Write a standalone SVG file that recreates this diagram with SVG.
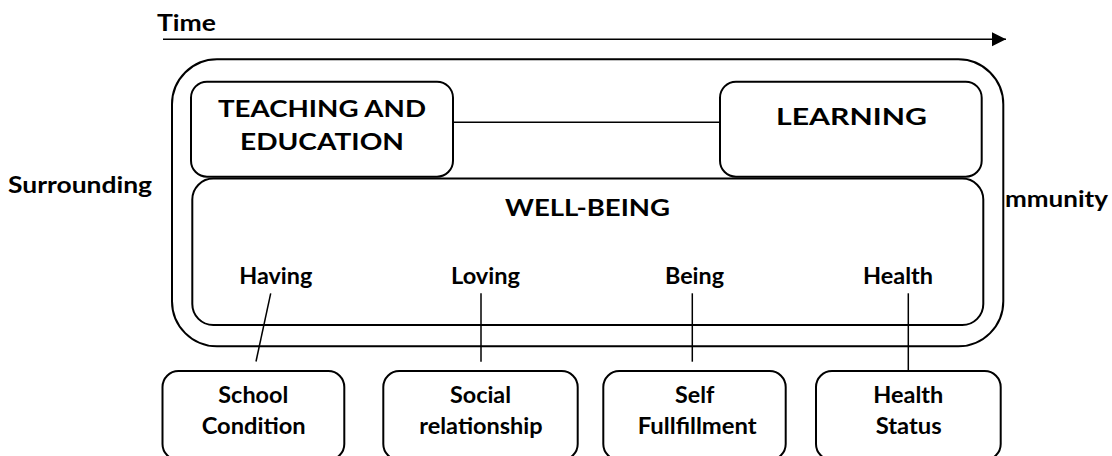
<svg xmlns="http://www.w3.org/2000/svg" width="1112" height="456" viewBox="0 0 1112 456">
  <defs>
    <marker id="arrowHead" markerUnits="userSpaceOnUse" markerWidth="16" markerHeight="16" refX="14" refY="7" orient="auto">
      <path d="M0,0 L14,7 L0,14 Z" fill="#000"/>
    </marker>
    <style>
      .box { fill: none; stroke: #000; stroke-width: 2; }
      .link { fill: none; stroke: #000; stroke-width: 1.5; }
      text { font-family: "Lato", "Open Sans", "Liberation Sans", sans-serif; font-weight: 700; fill: #000; }
      .head { font-size: 23px; }
      .lbl { font-size: 22px; }
    </style>
  </defs>
  <rect width="1112" height="456" fill="#fff"/>

  <!-- time axis -->
  <g id="time">
    <text class="lbl" x="157" y="31" textLength="59" lengthAdjust="spacingAndGlyphs">Time</text>
    <line class="link" x1="163" y1="39.3" x2="1006" y2="39.3" marker-end="url(#arrowHead)"/>
  </g>

  <!-- side labels -->
  <g id="surrounding">
    <text class="lbl" x="8" y="193.3" textLength="144" lengthAdjust="spacingAndGlyphs">Surrounding</text>
  </g>
  <g id="community">
    <text class="lbl" x="1005" y="206.5" textLength="103" lengthAdjust="spacingAndGlyphs">mmunity</text>
  </g>

  <!-- outer frame -->
  <g id="frame">
    <rect class="box" x="172" y="59.3" width="831.3" height="287" rx="45" ry="45"/>
  </g>

  <g id="teaching">
    <rect class="box" x="191" y="81.7" width="262" height="95" rx="16" ry="16"/>
    <text class="head" x="218" y="116.7" textLength="208" lengthAdjust="spacingAndGlyphs">TEACHING AND</text>
    <text class="head" x="240" y="150" textLength="164" lengthAdjust="spacingAndGlyphs">EDUCATION</text>
  </g>

  <g id="learning">
    <rect class="box" x="720" y="81.7" width="261.7" height="95" rx="16" ry="16"/>
    <text class="head" x="776" y="124.8" textLength="151" lengthAdjust="spacingAndGlyphs">LEARNING</text>
  </g>

  <g id="wellbeing">
    <rect class="box" x="192.3" y="178.6" width="791" height="146.4" rx="21" ry="21"/>
    <text class="head" x="505" y="216" textLength="165" lengthAdjust="spacingAndGlyphs">WELL-BEING</text>
    <text class="lbl" x="239.3" y="284.3" textLength="73" lengthAdjust="spacingAndGlyphs">Having</text>
    <text class="lbl" x="451" y="284.3" textLength="69" lengthAdjust="spacingAndGlyphs">Loving</text>
    <text class="lbl" x="665" y="284.3" textLength="59" lengthAdjust="spacingAndGlyphs">Being</text>
    <text class="lbl" x="863" y="284.3" textLength="70" lengthAdjust="spacingAndGlyphs">Health</text>
  </g>

  <g id="school">
    <rect class="box" x="162.5" y="371" width="181.8" height="89" rx="16" ry="16"/>
    <text class="lbl" x="218.3" y="403.3" textLength="70" lengthAdjust="spacingAndGlyphs">School</text>
    <text class="lbl" x="201.7" y="434.3" textLength="104" lengthAdjust="spacingAndGlyphs">Condition</text>
  </g>

  <g id="social">
    <rect class="box" x="383.3" y="371" width="194.4" height="89" rx="16" ry="16"/>
    <text class="lbl" x="450" y="403.3" textLength="61" lengthAdjust="spacingAndGlyphs">Social</text>
    <text class="lbl" x="419.3" y="434.3" textLength="123.4" lengthAdjust="spacingAndGlyphs">relationship</text>
  </g>

  <g id="self">
    <rect class="box" x="603.3" y="371" width="182.4" height="89" rx="16" ry="16"/>
    <text class="lbl" x="675" y="403.3" textLength="39.3" lengthAdjust="spacingAndGlyphs">Self</text>
    <text class="lbl" x="637.7" y="434.3" textLength="119" lengthAdjust="spacingAndGlyphs">Fullfillment</text>
  </g>

  <g id="health">
    <rect class="box" x="816" y="371" width="184.7" height="89" rx="16" ry="16"/>
    <text class="lbl" x="873.3" y="403.3" textLength="70" lengthAdjust="spacingAndGlyphs">Health</text>
    <text class="lbl" x="875.7" y="434.3" textLength="66" lengthAdjust="spacingAndGlyphs">Status</text>
  </g>

  <!-- connectors -->
  <g id="connectors">
    <line class="link" x1="453" y1="122.3" x2="720" y2="122.3"/>
    <line class="link" x1="270.7" y1="293.3" x2="256" y2="361.5"/>
    <line class="link" x1="481" y1="293.3" x2="481" y2="361.7"/>
    <line class="link" x1="692.3" y1="293.3" x2="692.3" y2="361.7"/>
    <line class="link" x1="908.3" y1="293.3" x2="908.3" y2="371"/>
  </g>
</svg>
